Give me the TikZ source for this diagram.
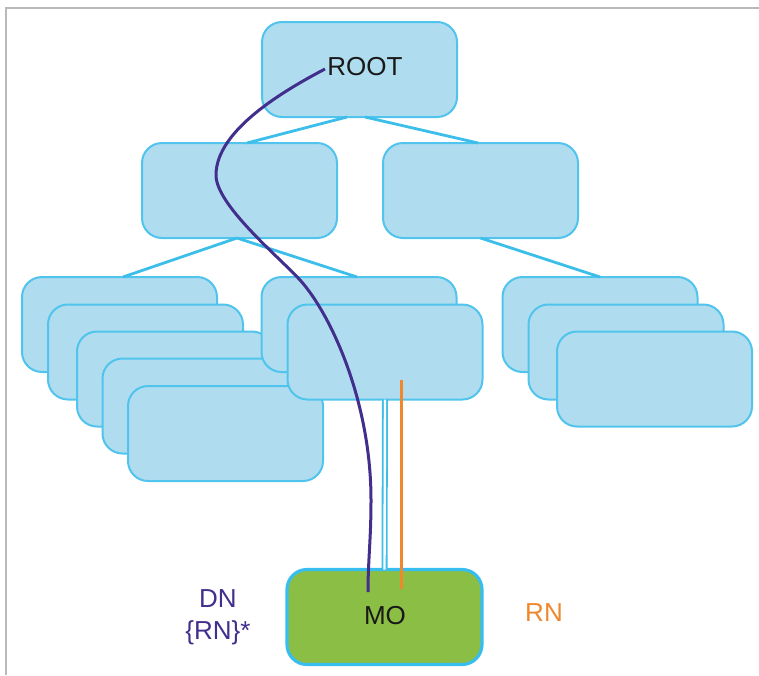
\documentclass[tikz,border=0pt]{standalone}
\usepackage{fontspec}
\setmainfont{Liberation Sans}
\usetikzlibrary{calc}
\definecolor{boxfill}{RGB}{175,221,239}
\definecolor{boxline}{RGB}{80,196,236}
\definecolor{treeline}{RGB}{60,190,235}
\definecolor{mogreen}{RGB}{139,190,69}
\definecolor{moline}{RGB}{56,190,238}
\definecolor{dnpurple}{RGB}{66,46,140}
\definecolor{rnorange}{RGB}{240,135,45}
\definecolor{framegray}{RGB}{185,185,185}
\begin{document}
\begin{tikzpicture}[x=1pt,y=-1pt,
  box/.style={draw=boxline, fill=boxfill, line width=2pt, rounded corners=20pt,
    minimum width=195pt, minimum height=95pt, inner sep=0pt, outer sep=0pt},
  mobox/.style={box, draw=moline, fill=mogreen, line width=3.2pt},
  tree/.style={draw=treeline, line width=2.8pt},
  dbl/.style={draw=treeline, line width=1.8pt, double=white, double distance=2.4pt},
  dnline/.style={draw=dnpurple, line width=3pt},
  rnline/.style={draw=rnorange, line width=3pt},
  lbl/.style={font=\fontsize{26}{32}\selectfont, inner sep=0pt, text=black!90}]
\useasboundingbox (0,0) rectangle (759,675);
% frame
\draw[framegray, line width=1.6pt] (6,675) -- (6,8) -- (759,8);

% level 1 and 2
\node[box] (root) at (359.5,69.5) {};
\node[lbl] (roottext) at (365,67) {ROOT};
\node[box] (l2a) at (239.5,190.5) {};
\node[box] (l2b) at (480.5,190.5) {};

% level 3 stacks
\node[box] (a1) at (119.5,324.5) {};
\node[box] (a2) at (145.5,352) {};
\node[box] (a3) at (174.5,379) {};
\node[box] (a4) at (200,406) {};
\node[box] (a5) at (225.5,433.5) {};

\node[box] (b1) at (359,324.5) {};
\node[box] (b2) at (385,352) {};

\node[box] (c1) at (600,324.5) {};
\node[box] (c2) at (626,352) {};
\node[box] (c3) at (654.5,379) {};

% tree connectors
\draw[tree] ($(root.south)+(-12.5,0)$) -- ($(l2a.north)+(7.5,0)$);
\draw[tree] ($(root.south)+(5.5,0)$) -- ($(l2b.north)+(-2.5,0)$);
\draw[tree] ($(l2a.south)+(-2.5,0)$) -- ($(a1.north)+(3.5,0)$);
\draw[tree] ($(l2a.south)+(-2.5,0)$) -- ($(b1.north)+(-2,0)$);
\draw[tree] (l2b.south) -- (c1.north);

% MO
\node[mobox] (mo) at (384.5,617) {};
\node[lbl] (motext) at (385,616) {MO};
\draw[dbl] (b2.south) -- (mo.north);

% orange RN line
\coordinate (rnstart) at (401,380);
\coordinate (rnend) at (401,589);
\draw[rnline] (rnstart) -- (rnend);

% purple DN curve
\coordinate (dnstart) at (325,69);
\coordinate (dnend) at (368,592);
\draw[dnline] (dnstart) .. controls (285,90) and (216,130) .. (216,175)
  .. controls (216,205) and (278,256) .. (300,280)
  .. controls (330,313) and (371,400) .. (371,500)
  .. controls (371,540) and (368,560) .. (dnend);

% side labels
\node[lbl, text=dnpurple, align=center] (dn) at (218,617) {DN\\\{RN\}*};
\node[lbl, text=rnorange] (rn) at (544,613) {RN};
\end{tikzpicture}
\end{document}
